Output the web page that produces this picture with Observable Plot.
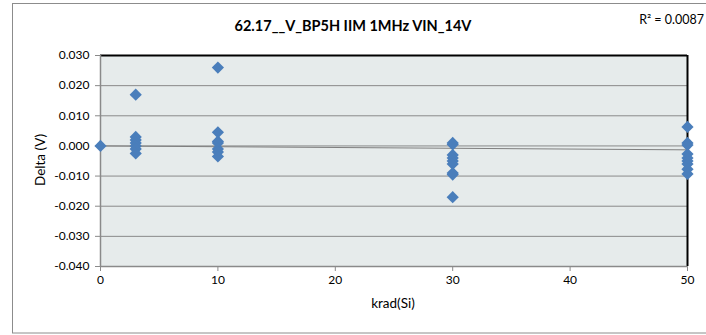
<!DOCTYPE html>
<html>
<head>
<meta charset="utf-8">
<script src="https://cdn.jsdelivr.net/npm/d3@7"></script>
<script src="https://cdn.jsdelivr.net/npm/@observablehq/plot@0.6"></script>
<style>
  html, body { margin: 0; padding: 0; background: #fff; }
  #chart { width: 706px; height: 335px; overflow: hidden; }
  svg { font-family: Lato, "Open Sans", sans-serif; }
</style>
</head>
<body>
<div id="chart"></div>
<script>
// ---- data ----
const title = "62.17__V_BP5H IIM 1MHz VIN_14V";
const rSquaredLabel = "R² = 0.0087";
const xLabel = "krad(Si)";
const yLabel = "Delta (V)";

const doses = [0, 3, 10, 30, 50];
const delta0  = [0.000];
const delta3  = [0.017, 0.003, 0.002, 0.001, 0.000, -0.001, -0.0025];
const delta10 = [0.026, 0.0045, 0.0015, 0.001, -0.001, -0.002, -0.0035];
const delta30 = [0.001, 0.0005, -0.003, -0.004, -0.005, -0.006, -0.009, -0.0095, -0.017];
const delta50 = [0.0063, 0.001, 0.0003, -0.0027, -0.004, -0.005, -0.006, -0.0077, -0.0093];
const deltaGroups = [delta0, delta3, delta10, delta30, delta50];

// linear trendline (as drawn in the reference)
const trendX = [0, 50];
const trendY = [0.0000, -0.0013];

const xTicks = [0, 10, 20, 30, 40, 50];
const xTickLabels = ["0", "10", "20", "30", "40", "50"];
const yTicks = [-0.04, -0.03, -0.02, -0.01, 0, 0.01, 0.02, 0.03];
const yTickLabels = ["-0.040", "-0.030", "-0.020", "-0.010", "0.000", "0.010", "0.020", "0.030"];

// ---- build tables ----
const points = [];
doses.forEach((d, i) => deltaGroups[i].forEach(v => points.push({krad: d, delta: v})));
const trend = trendX.map((x, i) => ({krad: x, delta: trendY[i]}));

const W = 706, H = 335;
const chart = Plot.plot({
  width: W,
  height: H,
  marginLeft: 100,
  marginRight: 19,
  marginTop: 55,
  marginBottom: 69,
  style: {fontFamily: "Lato, 'Open Sans', sans-serif", fontSize: "12px", color: "#000", background: "transparent"},
  x: {domain: [0, 50], ticks: xTicks, tickFormat: (d) => xTickLabels[xTicks.indexOf(d)], tickSize: 5, tickPadding: 4, label: null},
  y: {domain: [-0.04, 0.03], ticks: yTicks, tickFormat: (d) => yTickLabels[yTicks.findIndex(t => Math.abs(t - d) < 1e-9)], tickSize: 5, tickPadding: 6, label: null},
  marks: [
    Plot.frame({fill: "#e6ebeb", stroke: "none"}),
    Plot.ruleY(yTicks.slice(1, -1), {stroke: "#8a8a8a", strokeWidth: 1}),
    Plot.ruleY([0.03], {stroke: "#000", strokeWidth: 2}),
    Plot.ruleX([50], {stroke: "#000", strokeWidth: 2}),
    Plot.ruleX([0], {stroke: "#8a8a8a", strokeWidth: 1.5}),
    Plot.ruleY([-0.04], {stroke: "#8a8a8a", strokeWidth: 1.5}),
    Plot.line(trend, {x: "krad", y: "delta", stroke: "#7f7f7f", strokeWidth: 1}),
    Plot.dot(points, {x: "krad", y: "delta", symbol: "diamond2", r: 5.5, fill: "#4a7ebb", stroke: "none"})
  ]
});

const svg = d3.select(chart);
svg.selectAll("[aria-label='x-axis'] line, [aria-label='y-axis'] line, g[aria-label^='x-axis tick'] path, g[aria-label^='y-axis tick'] path").attr("stroke", "#8a8a8a");

// outer chart border
svg.insert("rect", ":first-child")
  .attr("x", 12.5).attr("y", 3.5).attr("width", 720).attr("height", 329.5)
  .attr("fill", "#fff").attr("stroke", "#8c8c8c").attr("stroke-width", 1);

svg.append("text")
  .attr("x", W / 2).attr("y", 31)
  .attr("text-anchor", "middle")
  .attr("font-size", 14.5).attr("font-weight", "bold")
  .text(title);

svg.append("text")
  .attr("x", 704).attr("y", 24)
  .attr("text-anchor", "end")
  .attr("font-size", 12.5)
  .text(rSquaredLabel);

svg.append("text")
  .attr("x", 393).attr("y", 308)
  .attr("text-anchor", "middle")
  .attr("font-size", 13.5)
  .text(xLabel);

svg.append("text")
  .attr("transform", "translate(40,160) rotate(-90)")
  .attr("text-anchor", "middle")
  .attr("dy", "0.35em")
  .attr("font-size", 13.5)
  .text(yLabel);

document.getElementById("chart").appendChild(chart);
</script>
</body>
</html>
